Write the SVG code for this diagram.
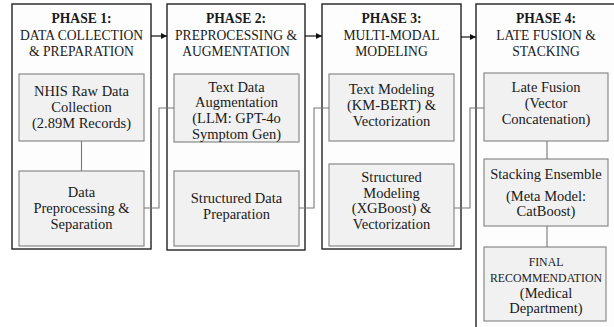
<svg xmlns="http://www.w3.org/2000/svg" width="614" height="327" viewBox="0 0 614 327">
  <style>
    text, tspan { font-family: "Liberation Serif", "DejaVu Serif", serif; }
    text { fill: #1a1a1a; text-anchor: middle; }
    .title { font-size: 13.6px; }
    .b { font-weight: bold; }
    .lbl { font-size: 14.5px; }
    .sm { font-size: 11.8px; }
    .phase { fill: #fdfdfd; stroke: #222; stroke-width: 1.4; }
    .step { fill: #f1f1f1; stroke: #8a8a8a; stroke-width: 1.2; }
    .link { fill: none; stroke: #777; stroke-width: 1.1; }
    .flow { fill: none; stroke: #111; stroke-width: 1.2; }
  </style>
  <defs>
    <marker id="arrow" viewBox="0 0 10 10" refX="10" refY="5" markerWidth="6" markerHeight="6" orient="auto" markerUnits="userSpaceOnUse">
      <path d="M0,0 L10,5 L0,10 z" fill="#111"/>
    </marker>
  </defs>
  <rect width="614" height="327" fill="#ffffff"/>

  <!-- Phase 1 -->
  <g id="phase1">
    <rect class="phase" x="12" y="4" width="139" height="245"/>
    <text class="title" font-family="Liberation Serif, serif"><tspan class="b" x="81.5" y="23">PHASE 1:</tspan><tspan x="81.5" y="39.5">DATA COLLECTION</tspan><tspan x="81.5" y="56">&amp; PREPARATION</tspan></text>
  </g>
  <g id="nhis-raw">
    <rect class="step" x="19" y="74" width="125" height="67"/>
    <text class="lbl" font-family="Liberation Serif, serif"><tspan x="81.5" y="96">NHIS Raw Data</tspan><tspan x="81.5" y="112">Collection</tspan><tspan x="81.5" y="128">(2.89M Records)</tspan></text>
  </g>
  <g id="preprocessing">
    <rect class="step" x="19" y="171" width="125" height="75"/>
    <text class="lbl" font-family="Liberation Serif, serif"><tspan x="81.5" y="197">Data</tspan><tspan x="81.5" y="213">Preprocessing &amp;</tspan><tspan x="81.5" y="229">Separation</tspan></text>
  </g>

  <!-- Phase 2 -->
  <g id="phase2">
    <rect class="phase" x="167" y="4" width="138" height="246"/>
    <text class="title" font-family="Liberation Serif, serif"><tspan class="b" x="236" y="23">PHASE 2:</tspan><tspan x="236" y="39.5">PREPROCESSING &amp;</tspan><tspan x="236" y="56">AUGMENTATION</tspan></text>
  </g>
  <g id="text-augmentation">
    <rect class="step" x="174" y="74" width="125" height="68"/>
    <text class="lbl" font-family="Liberation Serif, serif"><tspan x="236.5" y="91.5">Text Data</tspan><tspan x="236.5" y="107">Augmentation</tspan><tspan x="236.5" y="123">(LLM: GPT-4o</tspan><tspan x="236.5" y="138.5">Symptom Gen)</tspan></text>
  </g>
  <g id="structured-prep">
    <rect class="step" x="174" y="171" width="125" height="75"/>
    <text class="lbl" font-family="Liberation Serif, serif"><tspan x="236.5" y="203">Structured Data</tspan><tspan x="236.5" y="219">Preparation</tspan></text>
  </g>

  <!-- Phase 3 -->
  <g id="phase3">
    <rect class="phase" x="322" y="4" width="139" height="245"/>
    <text class="title" font-family="Liberation Serif, serif"><tspan class="b" x="391.5" y="23">PHASE 3:</tspan><tspan x="391.5" y="39.5">MULTI-MODAL</tspan><tspan x="391.5" y="56">MODELING</tspan></text>
  </g>
  <g id="text-modeling">
    <rect class="step" x="329" y="74" width="125" height="67"/>
    <text class="lbl" font-family="Liberation Serif, serif"><tspan x="391.5" y="94">Text Modeling</tspan><tspan x="391.5" y="110">(KM-BERT) &amp;</tspan><tspan x="391.5" y="126">Vectorization</tspan></text>
  </g>
  <g id="structured-modeling">
    <rect class="step" x="329" y="164" width="125" height="82"/>
    <text class="lbl" font-family="Liberation Serif, serif"><tspan x="391.5" y="182">Structured</tspan><tspan x="391.5" y="197.5">Modeling</tspan><tspan x="391.5" y="213">(XGBoost) &amp;</tspan><tspan x="391.5" y="228.5">Vectorization</tspan></text>
  </g>

  <!-- Phase 4 (continues past the page edge) -->
  <g id="phase4">
    <rect class="phase" x="476" y="4" width="150" height="340"/>
    <text class="title" font-family="Liberation Serif, serif"><tspan class="b" x="546" y="23">PHASE 4:</tspan><tspan x="546" y="39.5">LATE FUSION &amp;</tspan><tspan x="546" y="56">STACKING</tspan></text>
  </g>
  <g id="late-fusion">
    <rect class="step" x="484" y="73" width="124" height="68"/>
    <text class="lbl" font-family="Liberation Serif, serif"><tspan x="546" y="92">Late Fusion</tspan><tspan x="546" y="108">(Vector</tspan><tspan x="546" y="124">Concatenation)</tspan></text>
  </g>
  <g id="stacking">
    <rect class="step" x="484" y="159" width="124" height="67"/>
    <text class="lbl" font-family="Liberation Serif, serif"><tspan x="546" y="179">Stacking Ensemble</tspan><tspan x="546" y="201">(Meta Model:</tspan><tspan x="546" y="216">CatBoost)</tspan></text>
  </g>
  <g id="final-recommendation">
    <rect class="step" x="484" y="247" width="122" height="74"/>
    <text font-family="Liberation Serif, serif"><tspan class="sm" x="546" y="266">FINAL</tspan><tspan class="sm" x="546" y="282">RECOMMENDATION</tspan><tspan class="lbl" x="546" y="297.5">(Medical</tspan><tspan class="lbl" x="546" y="313">Department)</tspan></text>
  </g>

  <!-- Connectors -->
  <g id="connectors">
    <!-- phase-to-phase flow -->
    <path class="flow" d="M151,36 H167" marker-end="url(#arrow)"/>
    <path class="flow" d="M305,36 H322" marker-end="url(#arrow)"/>
    <path class="flow" d="M461,37 H476" marker-end="url(#arrow)"/>
    <!-- steps within a phase -->
    <path class="link" d="M81.5,141 V171"/>
    <path class="link" d="M547,141 V159"/>
    <path class="link" d="M547,226 V247"/>
    <!-- steps across phases -->
    <path class="link" d="M144,208 H159 V108 H174"/>
    <path class="link" d="M299,208 H314 V108 H329"/>
    <path class="link" d="M454,208 H470 V108 H484"/>
  </g>
</svg>
